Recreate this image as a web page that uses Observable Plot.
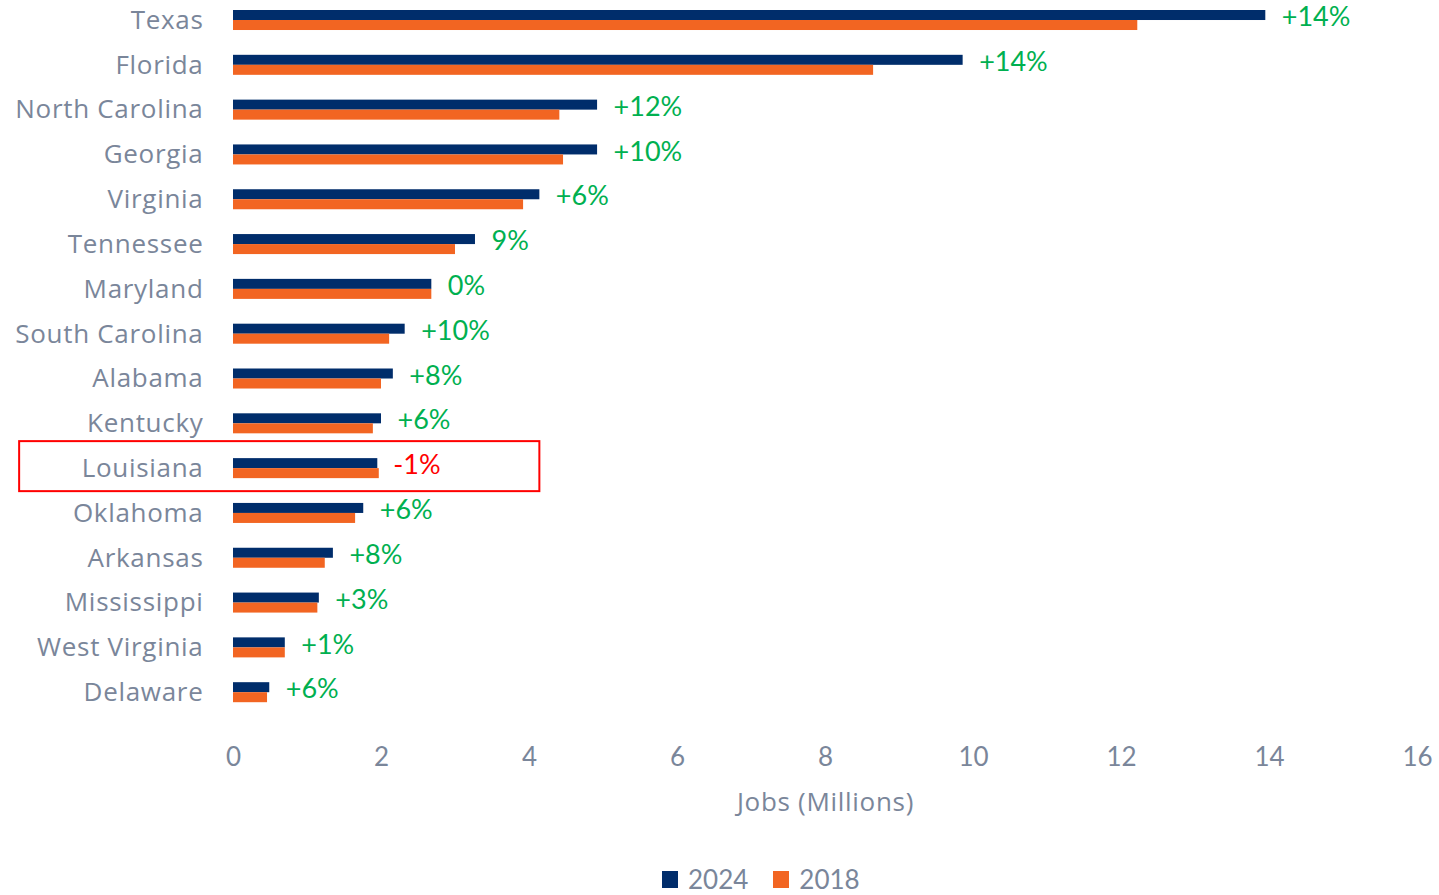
<!DOCTYPE html>
<html><head><meta charset="utf-8">
<script src="https://cdn.jsdelivr.net/npm/d3@7"></script>
<script src="https://cdn.jsdelivr.net/npm/@observablehq/plot@0.6"></script>
<style>
html,body{margin:0;background:#fff;font-family:Lato,sans-serif;color:#7a869a;overflow:hidden}
#legend{display:flex;align-items:center;height:32px;padding-top:13px;margin-left:662px;font-size:26px;line-height:42px}
.sw{display:inline-block;width:16px;height:17px;margin-right:10px}
.item{display:flex;align-items:center;margin-right:25px}
[aria-label="y-axis tick label"] text, .wide text{letter-spacing:0.7px}
</style>
</head><body><div id="chart"></div>
<div id="legend"></div>
<script>
const states = ["Texas","Florida","North Carolina","Georgia","Virginia","Tennessee","Maryland","South Carolina","Alabama","Kentucky","Louisiana","Oklahoma","Arkansas","Mississippi","West Virginia","Delaware"];
const jobs2024 = [13.95,9.86,4.92,4.92,4.14,3.27,2.68,2.32,2.16,2.0,1.95,1.76,1.35,1.16,0.70,0.49];
const jobs2018 = [12.22,8.65,4.41,4.46,3.92,3.0,2.68,2.11,2.0,1.89,1.97,1.65,1.24,1.14,0.70,0.46];
const changeLabels = ["+14%","+14%","+12%","+10%","+6%","9%","0%","+10%","+8%","+6%","-1%","+6%","+8%","+3%","+1%","+6%"];
const xTicks = [0,2,4,6,8,10,12,14,16];
const seriesNames = ["2024","2018"];
const seriesColors = ["#002D6B","#F26522"];
const xLabel = "Jobs (Millions)";
const highlight = [{state:"Louisiana", x1:-2.89, x2:4.14}];

const rows = states.map((s,i)=>({state:s, v24:jobs2024[i], v18:jobs2018[i], label:changeLabels[i], max:Math.max(jobs2024[i],jobs2018[i])}));
const pos = rows.filter(d=>!d.label.startsWith("-"));
const neg = rows.filter(d=>d.label.startsWith("-"));

const chart = Plot.plot({
  width:1439, height:850,
  marginLeft:233, marginRight:22, marginTop:0, marginBottom:135,
  x:{domain:[0,16]},
  y:{domain:states, range:[-2.4,714.6], padding:0, round:false},
  style:{fontFamily:"Lato, sans-serif", color:"#7a869a", background:"#fff"},
  marks:[
    Plot.barX(rows,{y:"state", x:"v24", fill:seriesColors[0], insetTop:12.4, insetBottom:22.4}),
    Plot.barX(rows,{y:"state", x:"v18", fill:seriesColors[1], insetTop:22.4, insetBottom:12.4}),
    Plot.text(pos,{x:"max", y:"state", text:"label", dx:16, dy:-3, textAnchor:"start", fill:"#00B050", fontSize:27}),
    Plot.text(neg,{x:"max", y:"state", text:"label", dx:14, dy:-3, textAnchor:"start", fill:"#FF0000", fontSize:27}),
    Plot.barX(highlight,{y:"state", x1:"x1", x2:"x2", fill:"none", stroke:"#FF0000", strokeWidth:2, insetTop:-4.6, insetBottom:-0.6}),
    Plot.axisY({tickSize:0, tickPadding:30, fontSize:26, fontFamily:"Open Sans", label:null}),
    Plot.axisX({ticks:xTicks, tickSize:0, tickPadding:32, fontSize:26, label:null}),
    Plot.text([xLabel],{x:()=>8, frameAnchor:"bottom", dy:95, text:d=>d, fontSize:26, fontFamily:"Open Sans", className:"wide"})
  ]
});
document.getElementById("chart").appendChild(chart);
const lg = document.getElementById("legend");
seriesNames.forEach((n,i)=>{
  const it=document.createElement("span"); it.className="item";
  it.innerHTML=`<span class="sw" style="background:${seriesColors[i]}"></span>${n}`;
  lg.appendChild(it);
});
</script>
</body></html>
